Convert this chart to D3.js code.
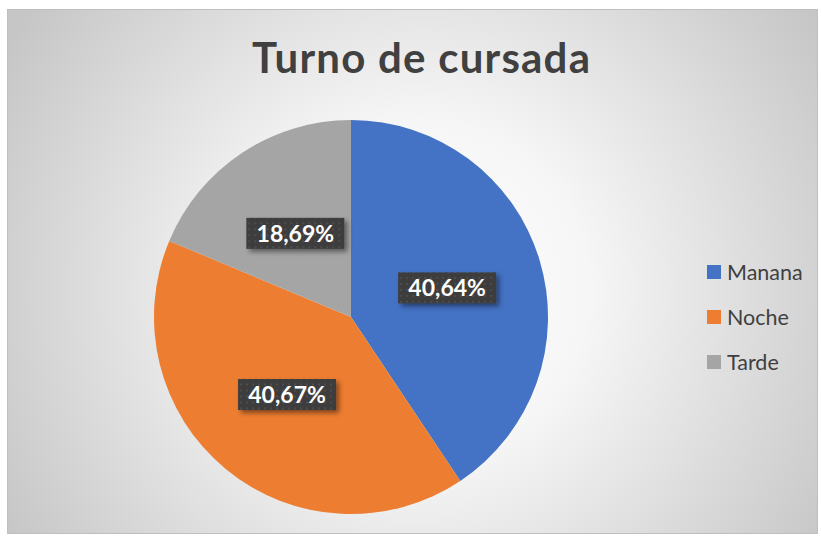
<!DOCTYPE html>
<html>
<head>
<meta charset="utf-8">
<script src="https://cdn.jsdelivr.net/npm/d3@7"></script>
<style>
  body { margin: 0; background: #fff; }
  svg { display: block; font-family: Lato, "Open Sans", sans-serif; }
</style>
</head>
<body>
<div id="chart"></div>
<script>
var categories = ["Manana", "Noche", "Tarde"]
var values = [40.64, 40.67, 18.69]
var labels = ["40,64%", "40,67%", "18,69%"]
var colors = ["#4472C4", "#ED7D31", "#A5A5A5"]

var width = 821,
    height = 537,
    cx = 351,
    cy = 317,
    radius = 197

var svg = d3.select("#chart").append("svg")
    .attr("width", width)
    .attr("height", height)

var defs = svg.append("defs")

var grad = defs.append("radialGradient")
    .attr("id", "bg")
    .attr("gradientUnits", "userSpaceOnUse")
    .attr("cx", 420).attr("cy", 290).attr("r", 480)
grad.append("stop").attr("offset", "0").attr("stop-color", "#ffffff")
grad.append("stop").attr("offset", "0.35").attr("stop-color", "#f6f6f6")
grad.append("stop").attr("offset", "1").attr("stop-color", "#c6c6c6")

var pat = defs.append("pattern")
    .attr("id", "dots")
    .attr("patternUnits", "userSpaceOnUse")
    .attr("width", 6).attr("height", 6)
pat.append("rect").attr("width", 6).attr("height", 6).attr("fill", "#3c3c3c")
pat.append("rect").attr("x", 1).attr("y", 1).attr("width", 2).attr("height", 2).attr("fill", "#4e4e4e")

var shadow = defs.append("filter")
    .attr("id", "shadow")
    .attr("x", "-20%").attr("y", "-20%").attr("width", "150%").attr("height", "170%")
shadow.append("feDropShadow")
    .attr("dx", 3).attr("dy", 3).attr("stdDeviation", 2.5)
    .attr("flood-color", "#000").attr("flood-opacity", 0.45)

// frame
svg.append("rect")
    .attr("x", 7.5).attr("y", 9.5)
    .attr("width", 810).attr("height", 524)
    .attr("fill", "url(#bg)")
    .attr("stroke", "#bfbfbf")
    .attr("stroke-width", 1)

svg.append("text")
    .attr("x", 421)
    .attr("y", 73)
    .attr("text-anchor", "middle")
    .attr("font-size", 42)
    .attr("font-weight", "bold")
    .attr("fill", "#404040")
    .attr("textLength", 338)
    .attr("lengthAdjust", "spacing")
    .text("Turno de cursada")

var data = categories.map(function(c, i) {
  return { name: c, value: values[i], label: labels[i], color: colors[i] }
})

var pie = d3.pie()
    .sort(null)
    .value(function(d) { return d.value })

var arc = d3.arc()
    .innerRadius(0)
    .outerRadius(radius)

var labelArc = d3.arc()
    .innerRadius(radius * 0.51)
    .outerRadius(radius * 0.51)

var g = svg.append("g")
    .attr("transform", "translate(" + cx + "," + cy + ")")

var slices = pie(data)

g.selectAll("path.slice")
    .data(slices).enter()
    .append("path")
      .classed("slice", true)
      .attr("d", arc)
      .attr("fill", function(d) { return d.data.color })

var lab = g.selectAll("g.lbl")
    .data(slices).enter()
    .append("g")
      .classed("lbl", true)
      .attr("transform", function(d) {
        var c = labelArc.centroid(d)
        return "translate(" + c[0] + "," + c[1] + ")"
      })

lab.append("rect")
    .attr("x", -49).attr("y", -15.5)
    .attr("width", 98).attr("height", 31)
    .attr("fill", "url(#dots)")
    .attr("filter", "url(#shadow)")

lab.append("text")
    .attr("text-anchor", "middle")
    .attr("dy", "0.36em")
    .attr("font-size", 23)
    .attr("font-weight", "bold")
    .attr("fill", "#ffffff")
    .text(function(d) { return d.data.label })

// legend
var legend = svg.append("g")
    .attr("transform", "translate(707,265)")

var item = legend.selectAll("g")
    .data(data).enter()
    .append("g")
      .attr("transform", function(d, i) { return "translate(0," + i * 45 + ")" })

item.append("rect")
    .attr("width", 14).attr("height", 14)
    .attr("fill", function(d) { return d.color })

item.append("text")
    .attr("x", 20)
    .attr("y", 7)
    .attr("dy", "0.36em")
    .attr("font-size", 21.5)
    .attr("fill", "#404040")
    .text(function(d) { return d.name })
</script>
</body>
</html>
